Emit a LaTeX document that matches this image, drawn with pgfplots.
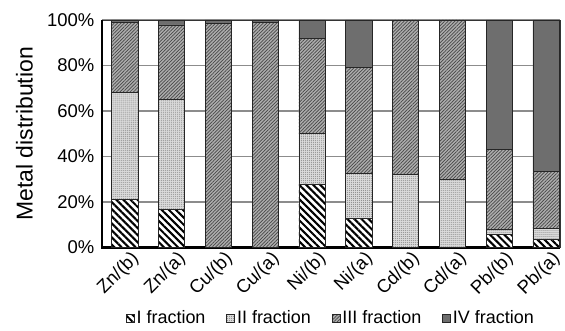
\documentclass[border=0pt]{standalone}
\usepackage{pgfplots}
\pgfplotsset{compat=1.18}
\usepackage{fontspec}
\setmainfont{Liberation Sans}
\usetikzlibrary{patterns,patterns.meta}

\pgfplotstableread{
x  I     II    III   IV
0  21.0  47.0  31.0  1.0
1  16.7  48.3  32.8  2.2
2  0     0     98.6  1.4
3  0     0     99.0  1.0
4  28.0  22.0  42.0  8.0
5  12.7  20.0  46.5  20.8
6  0     32.0  68.0  0
7  0     30.0  70.0  0
8  5.7   2.3   35.0  57.0
9  3.6   4.7   25.2  66.5
}\datatable

\tikzset{
  fracI/.style={fill=white, draw=black!85, line width=0.6pt,
    postaction={pattern={Lines[angle=-45,distance=5pt,line width=2.1pt]}, pattern color=black}},
  fracII/.style={fill=black!14, draw=black!85, line width=0.6pt,
    postaction={pattern={Dots[distance=2pt,radius=0.55pt]}, pattern color=black!45}},
  fracIII/.style={fill=black!32, draw=black!85, line width=0.6pt,
    postaction={pattern={Lines[angle=45,distance=2.4pt,line width=0.7pt]}, pattern color=black!72}},
  fracIV/.style={fill=black!57, draw=black!85, line width=0.6pt},
}

\begin{document}
\begin{tikzpicture}
\begin{axis}[
  name=ax,
  scale only axis,
  width=459pt, height=228pt,
  ybar stacked,
  bar width=26.3pt,
  xmin=-0.49, xmax=9.3,
  ymin=0, ymax=100,
  xtick={0,...,9},
  xticklabels={Zn/(b),Zn/(a),Cu/(b),Cu/(a),Ni/(b),Ni/(a),Cd/(b),Cd/(a),Pb/(b),Pb/(a)},
  ytick={0,20,40,60,80,100},
  yticklabels={0\%,20\%,40\%,60\%,80\%,100\%},
  tick style={draw=none},
  tick label style={font=\fontsize{18.5}{20}\selectfont},
  yticklabel style={xshift=-4pt},
  xticklabel style={rotate=45, anchor=east, inner sep=1pt, xshift=3pt, yshift=-14pt},
  ymajorgrids,
  grid style={black!45, line width=1.1pt},
  axis line style={draw=black!80, line width=0.9pt},
  ylabel={Metal distribution},
  ylabel style={font=\fontsize{23}{26}\selectfont, at={(axis description cs:-0.169,0.5)}, anchor=center},
  clip=false,
  legend columns=4,
  legend style={draw=none, fill=none, at={(axis description cs:0.5,-0.31)}, anchor=center,
    font=\fontsize{18}{20}\selectfont,
    /tikz/every even column/.append style={column sep=19pt},
    inner sep=0pt},
  legend image code/.code={\draw[#1] (0pt,-4pt) rectangle (8pt,4pt);},
]
\addplot[fracI] table[x=x,y=I] {\datatable};
\addplot[fracII] table[x=x,y=II] {\datatable};
\addplot[fracIII] table[x=x,y=III] {\datatable};
\addplot[fracIV] table[x=x,y=IV] {\datatable};
\legend{I fraction,II fraction,III fraction,IV fraction}
\draw[line width=2.6pt, black] (rel axis cs:0,1) -- (rel axis cs:0,0) -- (rel axis cs:1,0);
\end{axis}
\pgfresetboundingbox
\path ([shift={(-102pt,-83pt)}]ax.south west) rectangle ([shift={(5pt,20pt)}]ax.north east);
\end{tikzpicture}
\end{document}
